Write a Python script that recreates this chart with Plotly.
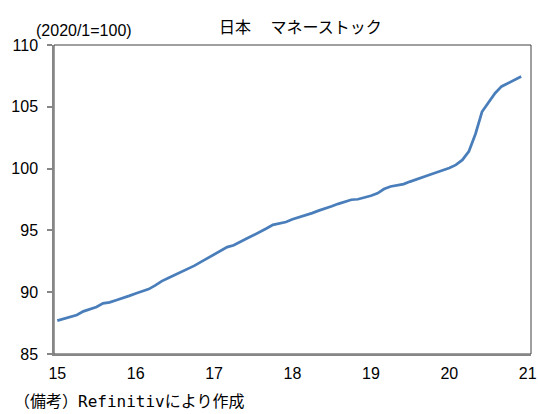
import plotly.graph_objects as go

# Monthly money stock index (2020/1 = 100), Jan 2015 .. Dec 2020
years = [15 + m / 12 for m in range(72)]
values = [
    87.70, 87.85, 88.00, 88.15, 88.45, 88.60, 88.80, 89.10, 89.18, 89.35, 89.50, 89.70,
    89.90, 90.05, 90.25, 90.55, 90.90, 91.15, 91.40, 91.60, 91.85, 92.15, 92.45, 92.75,
    93.05, 93.40, 93.65, 93.80, 94.10, 94.35, 94.60, 94.85, 95.15, 95.45, 95.58, 95.68,
    95.90, 96.05, 96.25, 96.40, 96.60, 96.75, 96.95, 97.15, 97.30, 97.48, 97.52, 97.65,
    97.80, 98.00, 98.35, 98.55, 98.65, 98.75, 98.95, 99.15, 99.35, 99.50, 99.68, 99.85,
    100.05, 100.30, 100.70, 101.40, 102.80, 104.60, 105.40, 106.10, 106.65, 106.90, 107.20, 107.45,
]
x_ticks = [15, 16, 17, 18, 19, 20, 21]
x_labels = ["15", "16", "17", "18", "19", "20", "21"]
y_ticks = [85, 90, 95, 100, 105, 110]

W, H = 538, 414
L, R, T, B = 54, 7, 45, 60
PW, PH = W - L - R, H - T - B


def px(x):
    return (x - L) / PW


def py(y):
    return (H - B - y) / PH


TICK_FONT = dict(family="Liberation Sans, Arial", size=16, color="#000000")
JP = "Noto Sans CJK JP"

fig = go.Figure()
fig.add_trace(go.Scatter(
    x=years, y=values, mode="lines",
    line=dict(color="#4a7ebb", width=2.75),
    hoverinfo="skip", showlegend=False,
))

fig.update_layout(
    width=W, height=H,
    margin=dict(l=L, r=R, t=T, b=B, autoexpand=False),
    paper_bgcolor="white", plot_bgcolor="white",
    xaxis=dict(
        range=[15 - 0.5 / 12, 21 + 0.5 / 12],
        tickvals=x_ticks, ticktext=x_labels,
        showgrid=False, zeroline=False, automargin=False,
        showline=True, linecolor="#868686", linewidth=1.5,
        ticks="", tickfont=TICK_FONT, ticklabelstandoff=4,
    ),
    yaxis=dict(
        range=[85, 110],
        tickvals=y_ticks,
        showgrid=False, zeroline=False, automargin=False,
        showline=True, linecolor="#868686", linewidth=1.5,
        ticks="outside", ticklen=5, tickcolor="#868686", tickwidth=1.5,
        tickfont=TICK_FONT, ticklabelstandoff=6,
    ),
    shapes=[dict(
        type="rect", xref="paper", yref="paper", x0=0, x1=1, y0=0, y1=1,
        line=dict(color="#404040", width=1), layer="below",
    )],
    annotations=[
        dict(text="日本　 マネーストック", x=px(300), y=py(26), xref="paper", yref="paper",
             showarrow=False, xanchor="center", yanchor="middle",
             font=dict(family=JP, size=16, color="#000000")),
        dict(text="(2020/1=100)", x=px(34), y=py(30), xref="paper", yref="paper",
             showarrow=False, xanchor="left", yanchor="middle",
             font=dict(family="Liberation Sans, Arial", size=16, color="#000000")),
        dict(text="（備考）<span style=\"font-family:'DejaVu Sans Mono'\">Refinitiv</span>により作成",
             x=px(12), y=py(400), xref="paper", yref="paper",
             showarrow=False, xanchor="left", yanchor="middle",
             font=dict(family=JP, size=16, color="#000000")),
    ],
)

fig.write_html("out.html")
